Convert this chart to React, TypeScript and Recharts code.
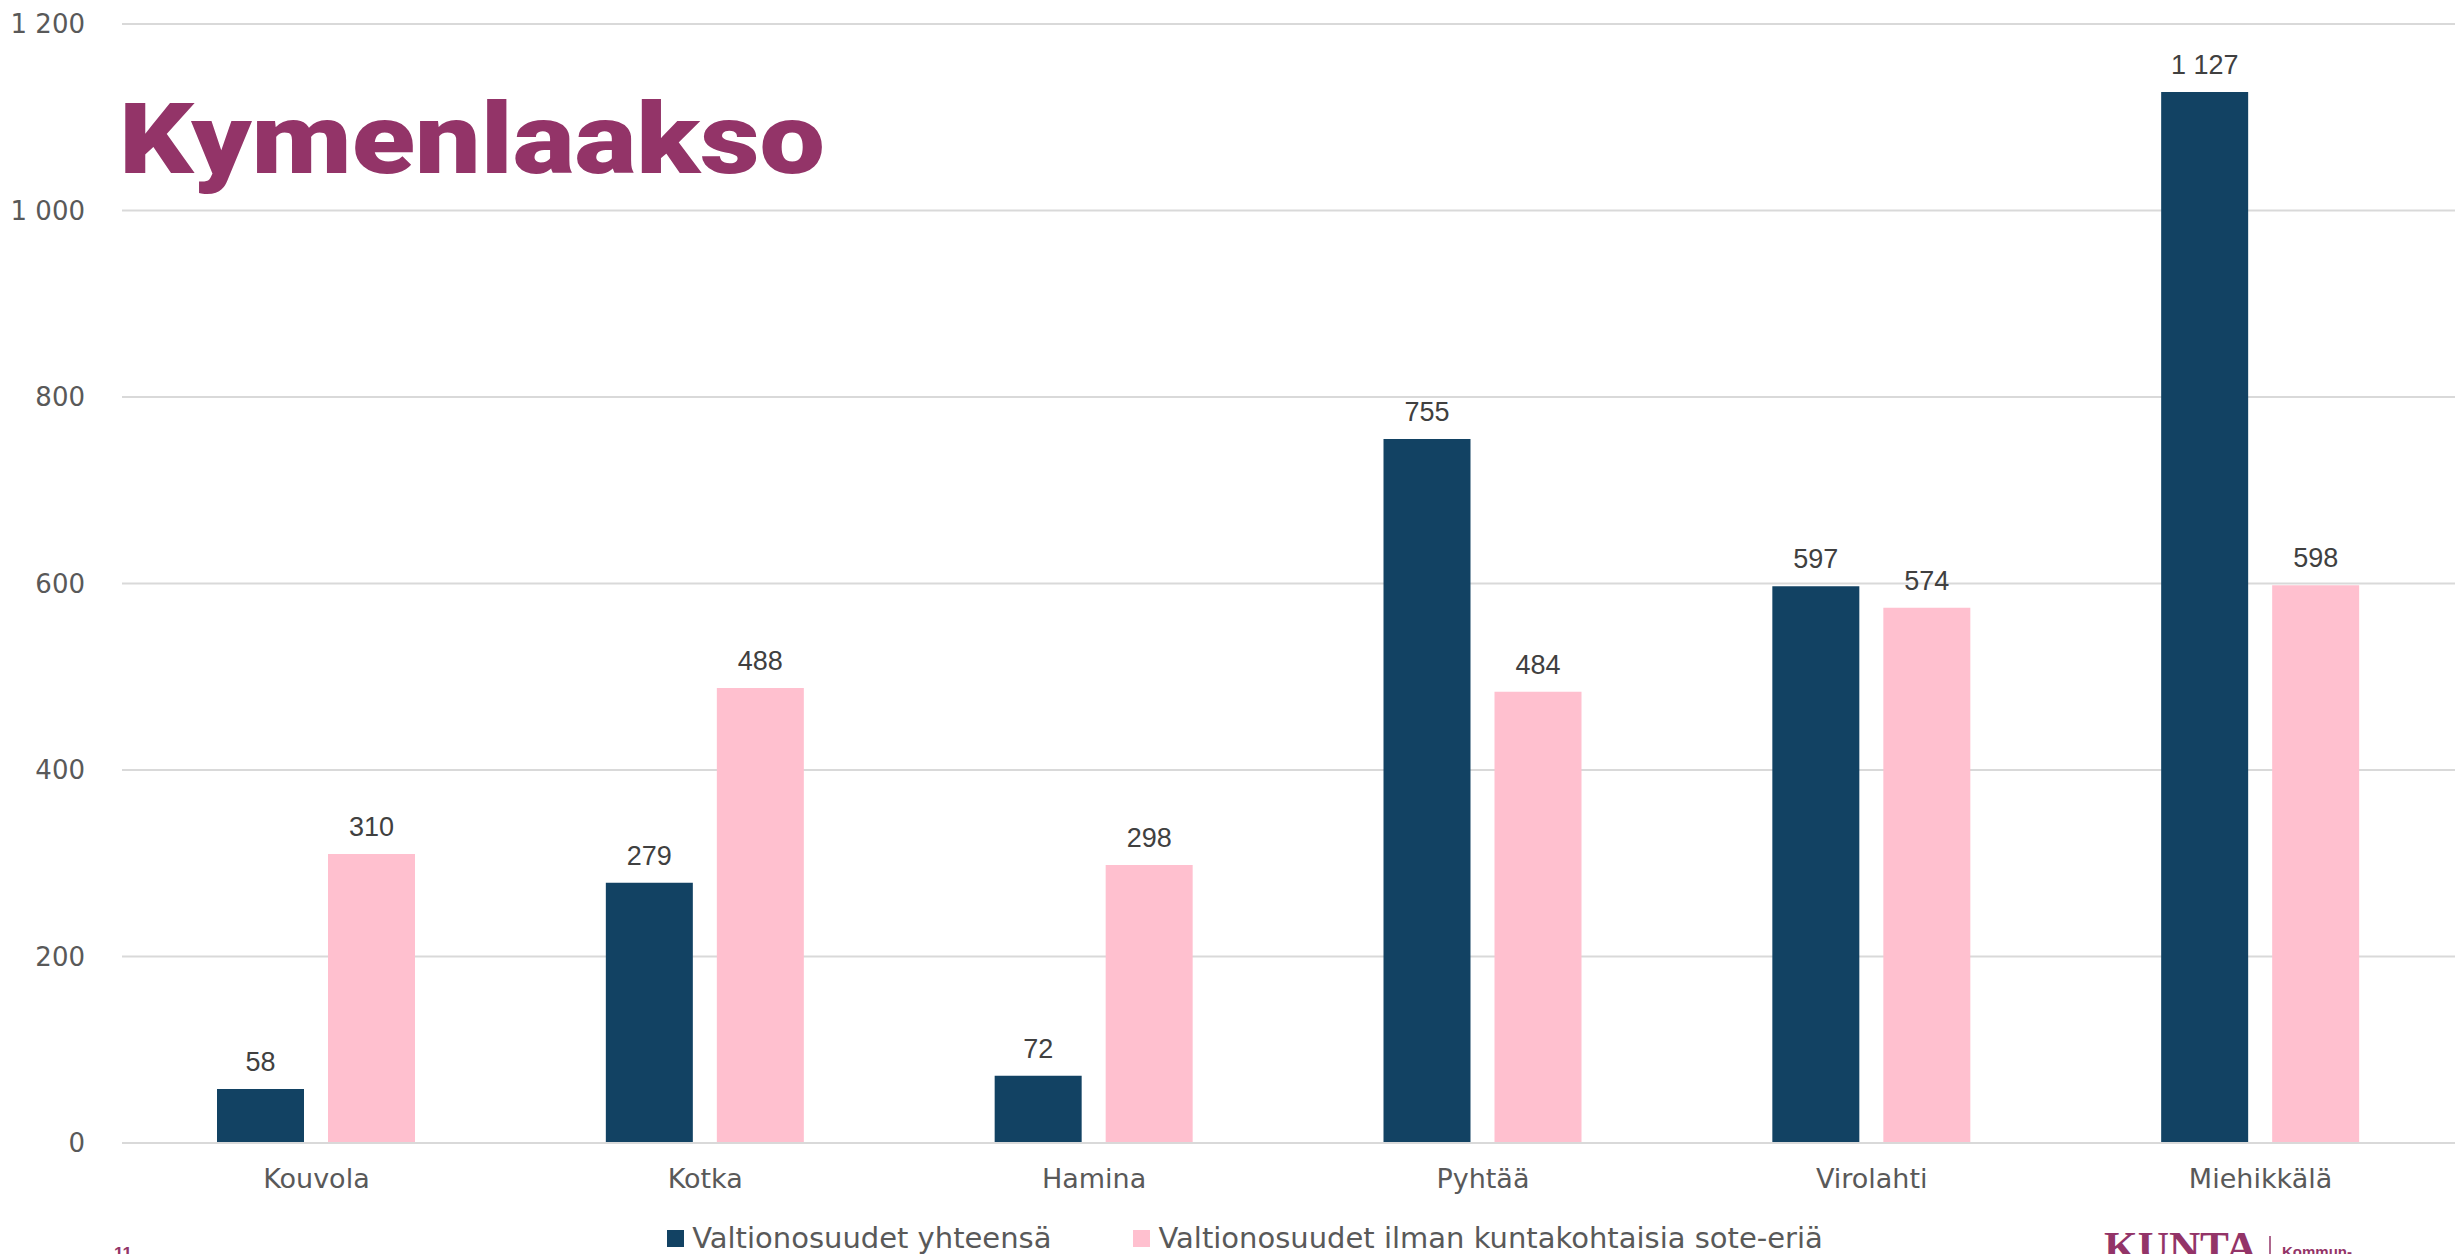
import { BarChart, Bar, XAxis, YAxis, CartesianGrid, Legend, LabelList } from 'recharts'

const municipalities = ['Kouvola', 'Kotka', 'Hamina', 'Pyhtää', 'Virolahti', 'Miehikkälä']
const totalAid = [58, 279, 72, 755, 597, 1127]
const aidWithoutSote = [310, 488, 298, 484, 574, 598]
const yTicks = [0, 200, 400, 600, 800, 1000, 1200]

const TOTAL_NAME = 'Valtionosuudet yhteensä'
const NO_SOTE_NAME = 'Valtionosuudet ilman kuntakohtaisia sote-eriä'
const seriesOrder = ['total', 'noSote']

const data = municipalities.map((name, i) => ({
  name,
  total: totalAid[i],
  noSote: aidWithoutSote[i],
}))

const W = 2455
const H = 1254
const MAGENTA = '#933468'
const NAVY = '#124263'
const PINK = '#FFC0CF'
const AXIS_FONT = '"DejaVu Sans", sans-serif'

// Finnish style thousands separator: 1 127
const fmt = (v: number | string) => String(v).replace(/\B(?=(\d{3})+(?!\d))/g, ' ')

function LegendContent({ payload }: any) {
  const items = [...(payload ?? [])].sort(
    (a: any, b: any) => seriesOrder.indexOf(a.dataKey) - seriesOrder.indexOf(b.dataKey)
  )
  return (
    <div style={{ display: 'flex', justifyContent: 'center', alignItems: 'center', height: 32, gap: 82 }}>
      {items.map((p: any) => (
        <div key={p.value} style={{ display: 'flex', alignItems: 'center' }}>
          <span style={{ width: 17, height: 17, background: p.color, marginRight: 8, display: 'inline-block' }} />
          <span style={{ fontFamily: AXIS_FONT, fontSize: 29, color: '#595959', whiteSpace: 'nowrap' }}>{p.value}</span>
        </div>
      ))}
    </div>
  )
}

export default function App() {
  return (
    <div style={{ position: 'absolute', left: 0, top: 0, width: W, height: H, overflow: 'hidden', background: '#fff' }}>
      <BarChart
        width={W}
        height={H}
        data={data}
        margin={{ top: 24, right: 0, bottom: 51, left: 0 }}
        barSize={87}
        barGap={24}
      >
        <CartesianGrid vertical={false} stroke="#d9d9d9" strokeWidth={2} />
        <XAxis
          dataKey="name"
          height={60}
          tickLine={false}
          tickSize={0}
          tickMargin={26}
          axisLine={{ stroke: '#d9d9d9', strokeWidth: 2 }}
          tick={{ fill: '#595959', fontSize: 27, fontFamily: AXIS_FONT }}
        />
        <YAxis
          width={122}
          domain={[0, 1200]}
          ticks={yTicks}
          tickFormatter={fmt}
          axisLine={false}
          tickLine={false}
          tickSize={0}
          tickMargin={37}
          tick={{ fill: '#595959', fontSize: 26, fontFamily: AXIS_FONT }}
        />
        <Legend
          layout="horizontal"
          verticalAlign="middle"
          align="center"
          content={<LegendContent />}
          wrapperStyle={{ top: 1222, left: 0, width: 2490 }}
        />
        <Bar dataKey="total" name={TOTAL_NAME} fill={NAVY} isAnimationActive={false}>
          <LabelList
            dataKey="total"
            position="top"
            offset={18}
            formatter={fmt}
            style={{ fill: '#404040', fontSize: 27, fontFamily: '"Liberation Sans", Arial, sans-serif' }}
          />
        </Bar>
        <Bar dataKey="noSote" name={NO_SOTE_NAME} fill={PINK} isAnimationActive={false}>
          <LabelList
            dataKey="noSote"
            position="top"
            offset={18}
            formatter={fmt}
            style={{ fill: '#404040', fontSize: 27, fontFamily: '"Liberation Sans", Arial, sans-serif' }}
          />
        </Bar>
      </BarChart>

      {/* slide decorations: title, page number, logo (cut at the bottom edge like the slide) */}
      <svg
        width={W}
        height={H}
        style={{ position: 'absolute', left: 0, top: 0, pointerEvents: 'none' }}
      >
        <text
          x={119}
          y={173}
          fontFamily="Roboto, 'Liberation Sans', sans-serif"
          fontWeight={900}
          fontSize={98}
          fill={MAGENTA}
          textLength={706}
          lengthAdjust="spacingAndGlyphs"
        >
          Kymenlaakso
        </text>
        <text x={114} y={1259} fontFamily="'Liberation Sans', sans-serif" fontWeight={700} fontSize={17} fill={MAGENTA}>
          11
        </text>
        <text
          x={2104}
          y={1261}
          fontFamily="'Liberation Serif', serif"
          fontWeight={700}
          fontSize={42}
          fill={MAGENTA}
          textLength={153}
          lengthAdjust="spacingAndGlyphs"
        >
          KUNTA
        </text>
        <line x1={2270} y1={1236} x2={2270} y2={1254} stroke={MAGENTA} strokeWidth={1.5} />
        <text x={2282} y={1257} fontFamily="'Liberation Sans', sans-serif" fontWeight={700} fontSize={15} fill={MAGENTA}>
          Kommun-
        </text>
      </svg>
    </div>
  )
}
